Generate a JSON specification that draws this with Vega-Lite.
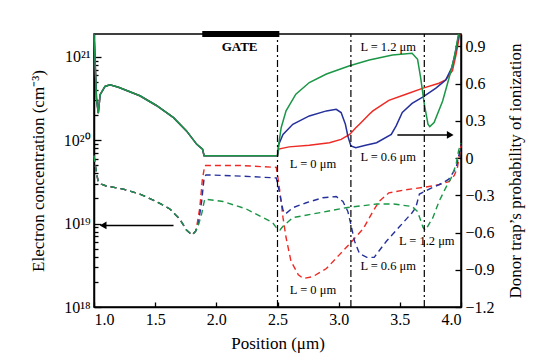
{
  "$schema": "https://vega.github.io/schema/vega-lite/v6.json",
  "width": 367,
  "height": 273,
  "autosize": "none",
  "padding": {"left": 94, "top": 34, "right": 84, "bottom": 54},
  "config": {
    "view": {"stroke": "black", "strokeWidth": 1.5},
    "axis": {"grid": false, "domainColor": "black", "domainWidth": 1.5, "tickColor": "black", "tickWidth": 1.3, "labelFont": "Liberation Serif", "labelFontSize": 16, "labelColor": "black", "titleFont": "Liberation Serif", "titleFontSize": 17, "titleFontWeight": "normal", "titleColor": "black", "labelOverlap": false},
    "text": {"font": "Liberation Serif"}
  },
  "datasets": {
    "conc": [
      {"s":"0","x":1.0,"n":1.86e21},{"s":"0","x":1.01,"n":8e20},{"s":"0","x":1.02,"n":3.2e20},{"s":"0","x":1.035,"n":2.1e20},{"s":"0","x":1.05,"n":3.5e20},{"s":"0","x":1.09,"n":4.4e20},{"s":"0","x":1.13,"n":4.6e20},{"s":"0","x":1.2,"n":4.3e20},{"s":"0","x":1.375,"n":3.4e20},{"s":"0","x":1.51,"n":2.6e20},{"s":"0","x":1.65,"n":1.86e20},{"s":"0","x":1.756,"n":1.29e20},{"s":"0","x":1.84,"n":8.9e19},{"s":"0","x":1.887,"n":7.8e19},{"s":"0","x":1.9,"n":6.5e19},{"s":"0","x":2.5,"n":6.5e19},
      {"s":"0","x":2.51,"n":7.8e19},{"s":"0","x":2.595,"n":8.3e19},{"s":"0","x":2.76,"n":8.7e19},{"s":"0","x":2.925,"n":9.3e19},{"s":"0","x":3.02,"n":1.02e20},{"s":"0","x":3.09,"n":1.17e20},{"s":"0","x":3.14,"n":1.41e20},{"s":"0","x":3.17,"n":1.55e20},{"s":"0","x":3.25,"n":2.04e20},{"s":"0","x":3.28,"n":2.24e20},{"s":"0","x":3.41,"n":3.0e20},{"s":"0","x":3.55,"n":3.55e20},{"s":"0","x":3.69,"n":4.2e20},{"s":"0","x":3.82,"n":4.8e20},{"s":"0","x":3.875,"n":5.25e20},{"s":"0","x":3.93,"n":6.8e20},{"s":"0","x":3.96,"n":1.07e21},{"s":"0","x":3.98,"n":1.55e21},{"s":"0","x":3.99,"n":1.87e21},
      {"s":"0.6","x":1.0,"n":1.86e21},{"s":"0.6","x":1.01,"n":8e20},{"s":"0.6","x":1.02,"n":3.2e20},{"s":"0.6","x":1.035,"n":2.1e20},{"s":"0.6","x":1.05,"n":3.5e20},{"s":"0.6","x":1.09,"n":4.4e20},{"s":"0.6","x":1.13,"n":4.6e20},{"s":"0.6","x":1.2,"n":4.3e20},{"s":"0.6","x":1.375,"n":3.4e20},{"s":"0.6","x":1.51,"n":2.6e20},{"s":"0.6","x":1.65,"n":1.86e20},{"s":"0.6","x":1.756,"n":1.29e20},{"s":"0.6","x":1.84,"n":8.9e19},{"s":"0.6","x":1.887,"n":7.8e19},{"s":"0.6","x":1.9,"n":6.5e19},{"s":"0.6","x":2.5,"n":6.5e19},
      {"s":"0.6","x":2.51,"n":8.9e19},{"s":"0.6","x":2.545,"n":1.17e20},{"s":"0.6","x":2.625,"n":1.55e20},{"s":"0.6","x":2.76,"n":1.95e20},{"s":"0.6","x":2.9,"n":2.24e20},{"s":"0.6","x":2.98,"n":2.34e20},{"s":"0.6","x":3.02,"n":2.14e20},{"s":"0.6","x":3.055,"n":1.55e20},{"s":"0.6","x":3.075,"n":1.12e20},{"s":"0.6","x":3.1,"n":8.5e19},{"s":"0.6","x":3.14,"n":8.1e19},{"s":"0.6","x":3.22,"n":8.7e19},{"s":"0.6","x":3.31,"n":9.3e19},{"s":"0.6","x":3.43,"n":1.17e20},{"s":"0.6","x":3.47,"n":1.48e20},{"s":"0.6","x":3.52,"n":2.14e20},{"s":"0.6","x":3.6,"n":2.75e20},{"s":"0.6","x":3.69,"n":3.3e20},{"s":"0.6","x":3.795,"n":4.2e20},{"s":"0.6","x":3.875,"n":5.25e20},{"s":"0.6","x":3.925,"n":7.4e20},{"s":"0.6","x":3.96,"n":1.23e21},{"s":"0.6","x":3.98,"n":1.78e21},{"s":"0.6","x":3.985,"n":1.87e21},
      {"s":"1.2","x":1.0,"n":1.86e21},{"s":"1.2","x":1.01,"n":8e20},{"s":"1.2","x":1.02,"n":3.2e20},{"s":"1.2","x":1.035,"n":2.1e20},{"s":"1.2","x":1.05,"n":3.5e20},{"s":"1.2","x":1.09,"n":4.4e20},{"s":"1.2","x":1.13,"n":4.6e20},{"s":"1.2","x":1.2,"n":4.3e20},{"s":"1.2","x":1.375,"n":3.4e20},{"s":"1.2","x":1.51,"n":2.6e20},{"s":"1.2","x":1.65,"n":1.86e20},{"s":"1.2","x":1.756,"n":1.29e20},{"s":"1.2","x":1.84,"n":8.9e19},{"s":"1.2","x":1.887,"n":7.8e19},{"s":"1.2","x":1.9,"n":6.5e19},{"s":"1.2","x":2.5,"n":6.5e19},
      {"s":"1.2","x":2.51,"n":8.9e19},{"s":"1.2","x":2.53,"n":1.41e20},{"s":"1.2","x":2.57,"n":2.24e20},{"s":"1.2","x":2.65,"n":3.55e20},{"s":"1.2","x":2.76,"n":4.9e20},{"s":"1.2","x":2.9,"n":6.2e20},{"s":"1.2","x":3.09,"n":7.8e20},{"s":"1.2","x":3.25,"n":9.1e20},{"s":"1.2","x":3.44,"n":1.05e21},{"s":"1.2","x":3.6,"n":1.1e21},{"s":"1.2","x":3.645,"n":9.3e20},{"s":"1.2","x":3.67,"n":5.6e20},{"s":"1.2","x":3.7,"n":2.7e20},{"s":"1.2","x":3.73,"n":1.55e20},{"s":"1.2","x":3.745,"n":1.45e20},{"s":"1.2","x":3.78,"n":1.62e20},{"s":"1.2","x":3.85,"n":2.95e20},{"s":"1.2","x":3.9,"n":5.4e20},{"s":"1.2","x":3.945,"n":9.8e20},{"s":"1.2","x":3.98,"n":1.86e21}
    ],
    "prob": [
      {"s":"0","x":1.0,"p":0.02},{"s":"0","x":1.02,"p":-0.12},{"s":"0","x":1.035,"p":-0.19},{"s":"0","x":1.06,"p":-0.21},{"s":"0","x":1.1,"p":-0.225},{"s":"0","x":1.24,"p":-0.25},{"s":"0","x":1.375,"p":-0.29},{"s":"0","x":1.51,"p":-0.35},{"s":"0","x":1.62,"p":-0.41},{"s":"0","x":1.7,"p":-0.49},{"s":"0","x":1.756,"p":-0.58},{"s":"0","x":1.8,"p":-0.62},{"s":"0","x":1.83,"p":-0.59},
      {"s":"0","x":1.845,"p":-0.52},{"s":"0","x":1.865,"p":-0.4},{"s":"0","x":1.885,"p":-0.18},{"s":"0","x":1.905,"p":-0.06},{"s":"0","x":2.2,"p":-0.06},{"s":"0","x":2.49,"p":-0.075},{"s":"0","x":2.51,"p":-0.2},{"s":"0","x":2.53,"p":-0.35},{"s":"0","x":2.545,"p":-0.48},{"s":"0","x":2.57,"p":-0.64},{"s":"0","x":2.61,"p":-0.83},{"s":"0","x":2.67,"p":-0.94},{"s":"0","x":2.71,"p":-0.97},{"s":"0","x":2.79,"p":-0.955},{"s":"0","x":2.9,"p":-0.89},{"s":"0","x":3.005,"p":-0.78},{"s":"0","x":3.1,"p":-0.68},{"s":"0","x":3.2,"p":-0.57},{"s":"0","x":3.28,"p":-0.43},{"s":"0","x":3.33,"p":-0.35},{"s":"0","x":3.41,"p":-0.28},{"s":"0","x":3.55,"p":-0.255},{"s":"0","x":3.7,"p":-0.235},{"s":"0","x":3.82,"p":-0.215},{"s":"0","x":3.9,"p":-0.19},{"s":"0","x":3.945,"p":-0.14},{"s":"0","x":3.97,"p":-0.08},{"s":"0","x":4.0,"p":0.1},
      {"s":"0.6","x":1.0,"p":0.02},{"s":"0.6","x":1.02,"p":-0.12},{"s":"0.6","x":1.035,"p":-0.19},{"s":"0.6","x":1.06,"p":-0.21},{"s":"0.6","x":1.1,"p":-0.225},{"s":"0.6","x":1.24,"p":-0.25},{"s":"0.6","x":1.375,"p":-0.29},{"s":"0.6","x":1.51,"p":-0.35},{"s":"0.6","x":1.62,"p":-0.41},{"s":"0.6","x":1.7,"p":-0.49},{"s":"0.6","x":1.756,"p":-0.58},{"s":"0.6","x":1.8,"p":-0.62},{"s":"0.6","x":1.83,"p":-0.59},
      {"s":"0.6","x":1.85,"p":-0.55},{"s":"0.6","x":1.88,"p":-0.35},{"s":"0.6","x":1.9,"p":-0.16},{"s":"0.6","x":1.915,"p":-0.135},{"s":"0.6","x":2.2,"p":-0.145},{"s":"0.6","x":2.49,"p":-0.16},{"s":"0.6","x":2.51,"p":-0.25},{"s":"0.6","x":2.545,"p":-0.42},{"s":"0.6","x":2.565,"p":-0.45},{"s":"0.6","x":2.625,"p":-0.4},{"s":"0.6","x":2.735,"p":-0.36},{"s":"0.6","x":2.87,"p":-0.32},{"s":"0.6","x":2.98,"p":-0.31},{"s":"0.6","x":3.035,"p":-0.35},{"s":"0.6","x":3.075,"p":-0.43},{"s":"0.6","x":3.1,"p":-0.535},{"s":"0.6","x":3.13,"p":-0.67},{"s":"0.6","x":3.17,"p":-0.77},{"s":"0.6","x":3.23,"p":-0.8},{"s":"0.6","x":3.29,"p":-0.8},{"s":"0.6","x":3.39,"p":-0.67},{"s":"0.6","x":3.5,"p":-0.55},{"s":"0.6","x":3.6,"p":-0.44},{"s":"0.6","x":3.63,"p":-0.4},{"s":"0.6","x":3.66,"p":-0.29},{"s":"0.6","x":3.74,"p":-0.25},{"s":"0.6","x":3.85,"p":-0.2},{"s":"0.6","x":3.9,"p":-0.17},{"s":"0.6","x":3.96,"p":-0.08},{"s":"0.6","x":4.0,"p":0.1},
      {"s":"1.2","x":1.0,"p":0.02},{"s":"1.2","x":1.02,"p":-0.12},{"s":"1.2","x":1.035,"p":-0.19},{"s":"1.2","x":1.06,"p":-0.21},{"s":"1.2","x":1.1,"p":-0.225},{"s":"1.2","x":1.24,"p":-0.25},{"s":"1.2","x":1.375,"p":-0.29},{"s":"1.2","x":1.51,"p":-0.35},{"s":"1.2","x":1.62,"p":-0.41},{"s":"1.2","x":1.7,"p":-0.49},{"s":"1.2","x":1.756,"p":-0.58},{"s":"1.2","x":1.8,"p":-0.62},{"s":"1.2","x":1.83,"p":-0.59},
      {"s":"1.2","x":1.85,"p":-0.55},{"s":"1.2","x":1.88,"p":-0.45},{"s":"1.2","x":1.905,"p":-0.33},{"s":"1.2","x":2.055,"p":-0.35},{"s":"1.2","x":2.245,"p":-0.41},{"s":"1.2","x":2.46,"p":-0.52},{"s":"1.2","x":2.49,"p":-0.56},{"s":"1.2","x":2.52,"p":-0.58},{"s":"1.2","x":2.545,"p":-0.55},{"s":"1.2","x":2.625,"p":-0.48},{"s":"1.2","x":2.79,"p":-0.45},{"s":"1.2","x":3.06,"p":-0.4},{"s":"1.2","x":3.31,"p":-0.37},{"s":"1.2","x":3.45,"p":-0.37},{"s":"1.2","x":3.6,"p":-0.39},{"s":"1.2","x":3.645,"p":-0.43},{"s":"1.2","x":3.69,"p":-0.56},{"s":"1.2","x":3.71,"p":-0.58},{"s":"1.2","x":3.77,"p":-0.48},{"s":"1.2","x":3.82,"p":-0.35},{"s":"1.2","x":3.875,"p":-0.24},{"s":"1.2","x":3.92,"p":-0.16},{"s":"1.2","x":3.96,"p":-0.05},{"s":"1.2","x":3.98,"p":0.06},{"s":"1.2","x":4.0,"p":0.12}
    ],
    "vlines": [{"x":2.5,"p":-1.2,"p2":1.0},{"x":3.1,"p":-1.2,"p2":1.0},{"x":3.7,"p":-1.2,"p2":1.0}],
    "gate": [{"x":1.885,"x2":2.515,"p":1.0}],
    "gatelabel": [{"x":2.19,"p":0.892,"t":"GATE"}],
    "labels": [
      {"x":2.79,"p":-0.046,"t":"L = 0 μm"},{"x":2.79,"p":-1.06,"t":"L = 0 μm"},
      {"x":3.405,"p":0.005,"t":"L = 0.6 μm"},{"x":3.405,"p":-0.87,"t":"L = 0.6 μm"},
      {"x":3.405,"p":0.897,"t":"L = 1.2 μm"},{"x":3.72,"p":-0.67,"t":"L = 1.2 μm"}
    ],
    "shafts": [{"x":1.65,"x2":1.08,"p":-0.543},{"x":3.48,"x2":3.91,"p":0.187}],
    "heads": [{"x":1.075,"p":-0.543,"sh":"triangle-left"},{"x":3.912,"p":0.187,"sh":"triangle-right"}]
  },
  "encoding": {
    "x": {"field": "x", "type": "quantitative", "scale": {"domain": [1, 4], "nice": false},
      "axis": {"title": "Position (μm)", "values": [1, 1.5, 2, 2.5, 3, 3.5, 4], "format": ".1f", "tickSize": -5, "labelPadding": 9, "titlePadding": 8}}
  },
  "layer": [
    {
      "data": {"name": "conc"},
      "mark": {"type": "line", "strokeWidth": 1.5},
      "encoding": {
        "y": {"field": "n", "type": "quantitative",
          "scale": {"type": "log", "domain": [1e18, 1.87e21], "nice": false},
          "axis": {"orient": "left", "title": "Electron concentration (cm⁻³)",
            "values": [1e18,2e18,3e18,4e18,5e18,6e18,7e18,8e18,9e18,1e19,2e19,3e19,4e19,5e19,6e19,7e19,8e19,9e19,1e20,2e20,3e20,4e20,5e20,6e20,7e20,8e20,9e20,1e21],
            "labelExpr": "datum.value == 1e18 ? '10¹⁸' : datum.value == 1e19 ? '10¹⁹' : datum.value == 1e20 ? '10²⁰' : datum.value == 1e21 ? '10²¹' : ''",
            "tickSize": {"condition": {"test": "datum.value == 1e18 || datum.value == 1e19 || datum.value == 1e20 || datum.value == 1e21", "value": -7}, "value": -4},
            "labelPadding": 11,
            "titleX": -56, "titleY": 136.5, "titleAngle": 270, "titleAlign": "center", "titleBaseline": "middle"}},
        "color": {"field": "s", "type": "nominal", "scale": {"domain": ["0", "0.6", "1.2"], "range": ["#ee2a24", "#25309c", "#1a9646"]}, "legend": null}
      }
    },
    {
      "encoding": {
        "y": {"field": "p", "type": "quantitative", "scale": {"domain": [-1.2, 1.0], "nice": false},
          "axis": {"orient": "right", "title": "Donor trap’s probability of ionization",
            "values": [-1.2, -0.9, -0.6, -0.3, 0, 0.3, 0.6, 0.9],
            "labelExpr": "datum.value == 0 ? '0' : format(datum.value, '.1f')",
            "tickSize": -6, "labelPadding": 10,
            "titleX": 54, "titleY": 136.5, "titleAngle": 270, "titleAlign": "center", "titleBaseline": "middle"}}
      },
      "layer": [
        {
          "data": {"name": "prob"},
          "mark": {"type": "line", "strokeWidth": 1.4, "strokeDash": [6, 4]},
          "encoding": {
            "color": {"field": "s", "type": "nominal", "scale": {"domain": ["0", "0.6", "1.2"], "range": ["#ee2a24", "#25309c", "#1a9646"]}, "legend": null}
          }
        },
        {
          "data": {"name": "vlines"},
          "mark": {"type": "rule", "color": "black", "strokeWidth": 1.2, "strokeDash": [7, 3, 2, 3]},
          "encoding": {"y2": {"field": "p2"}}
        },
        {
          "data": {"name": "gate"},
          "mark": {"type": "rule", "color": "black", "strokeWidth": 6},
          "encoding": {"x2": {"field": "x2"}}
        },
        {
          "data": {"name": "gatelabel"},
          "mark": {"type": "text", "fontWeight": "bold", "fontSize": 13, "color": "black", "font": "Liberation Serif"},
          "encoding": {"text": {"field": "t"}}
        },
        {
          "data": {"name": "labels"},
          "mark": {"type": "text", "fontSize": 12.5, "color": "black", "font": "Liberation Serif"},
          "encoding": {"text": {"field": "t"}}
        },
        {
          "data": {"name": "shafts"},
          "mark": {"type": "rule", "color": "black", "strokeWidth": 1.5},
          "encoding": {"x2": {"field": "x2"}}
        },
        {
          "data": {"name": "heads"},
          "mark": {"type": "point", "filled": true, "color": "black", "size": 60, "opacity": 1},
          "encoding": {"shape": {"field": "sh", "type": "nominal", "scale": null}}
        }
      ]
    }
  ],
  "resolve": {"scale": {"y": "independent", "color": "shared"}, "axis": {"y": "independent"}}
}
